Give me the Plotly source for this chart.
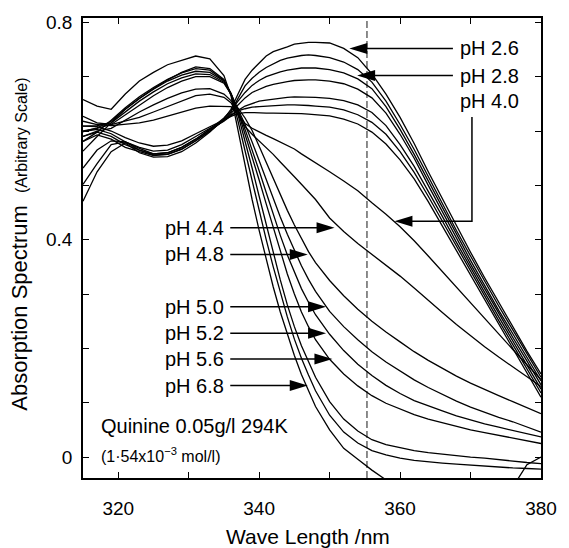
import plotly.graph_objects as go

# ---------------- data ----------------
WL = [315, 317, 319, 321, 323, 325, 327, 329, 331, 333, 335, 336, 337, 338, 339, 340,
      341, 342, 343, 344, 345, 346, 347, 348, 350, 352, 354, 356, 358, 360, 362, 364,
      366, 368, 370, 372, 374, 376, 378, 380]

PH_2_6 = [0.471, 0.525, 0.562, 0.578, 0.560, 0.552, 0.553, 0.562, 0.578, 0.598, 0.622, 0.640, 0.668, 0.695, 0.712, 0.725,
          0.738, 0.746, 0.750, 0.755, 0.760, 0.762, 0.763, 0.763, 0.762, 0.752, 0.735, 0.705, 0.668, 0.625, 0.577, 0.525,
          0.475, 0.425, 0.377, 0.330, 0.285, 0.240, 0.195, 0.153]
PH_2_8 = [0.502, 0.540, 0.575, 0.580, 0.565, 0.556, 0.557, 0.566, 0.582, 0.600, 0.620, 0.635, 0.660, 0.683, 0.697, 0.708,
          0.717, 0.724, 0.730, 0.734, 0.737, 0.739, 0.740, 0.739, 0.735, 0.727, 0.713, 0.690, 0.655, 0.612, 0.566, 0.516,
          0.466, 0.417, 0.370, 0.323, 0.278, 0.234, 0.190, 0.147]
PH_3_0 = [0.532, 0.565, 0.582, 0.580, 0.568, 0.558, 0.560, 0.570, 0.585, 0.603, 0.624, 0.638, 0.655, 0.671, 0.684, 0.693,
          0.700, 0.705, 0.709, 0.712, 0.714, 0.716, 0.716, 0.716, 0.713, 0.707, 0.696, 0.678, 0.645, 0.603, 0.557, 0.508,
          0.460, 0.410, 0.362, 0.316, 0.270, 0.227, 0.183, 0.140]
PH_3_2 = [0.581, 0.593, 0.585, 0.570, 0.562, 0.555, 0.557, 0.567, 0.582, 0.600, 0.620, 0.632, 0.648, 0.661, 0.671, 0.677,
          0.682, 0.686, 0.689, 0.691, 0.693, 0.694, 0.694, 0.694, 0.692, 0.687, 0.677, 0.661, 0.633, 0.594, 0.550, 0.500,
          0.452, 0.403, 0.355, 0.310, 0.264, 0.220, 0.177, 0.133]
PH_3_4 = [0.590, 0.598, 0.590, 0.575, 0.565, 0.558, 0.560, 0.570, 0.585, 0.603, 0.618, 0.628, 0.638, 0.646, 0.651, 0.655,
          0.657, 0.659, 0.661, 0.662, 0.663, 0.663, 0.663, 0.662, 0.660, 0.656, 0.648, 0.634, 0.610, 0.575, 0.535, 0.490,
          0.443, 0.395, 0.348, 0.303, 0.258, 0.214, 0.170, 0.125]
PH_3_6 = [0.599, 0.603, 0.595, 0.580, 0.570, 0.563, 0.565, 0.575, 0.590, 0.605, 0.620, 0.630, 0.637, 0.641, 0.644, 0.645,
          0.646, 0.647, 0.648, 0.648, 0.648, 0.648, 0.647, 0.646, 0.644, 0.639, 0.630, 0.616, 0.594, 0.562, 0.524, 0.480,
          0.434, 0.387, 0.341, 0.296, 0.251, 0.207, 0.163, 0.118]
PH_3_8 = [0.609, 0.608, 0.600, 0.588, 0.578, 0.572, 0.574, 0.582, 0.595, 0.608, 0.620, 0.627, 0.632, 0.634, 0.634, 0.633,
          0.633, 0.633, 0.633, 0.633, 0.632, 0.632, 0.631, 0.630, 0.628, 0.622, 0.613, 0.598, 0.576, 0.547, 0.512, 0.470,
          0.425, 0.380, 0.334, 0.289, 0.245, 0.200, 0.156, 0.110]
PH_4_0 = [0.618, 0.612, 0.610, 0.612, 0.615, 0.620, 0.627, 0.635, 0.642, 0.646, 0.645, 0.645, 0.630, 0.614, 0.605, 0.598,
          0.592, 0.586, 0.580, 0.574, 0.567, 0.558, 0.550, 0.542, 0.525, 0.508, 0.490, 0.468, 0.447, 0.424, 0.398, 0.370,
          0.341, 0.312, 0.283, 0.254, 0.226, 0.198, 0.170, 0.143]
PH_4_4 = [0.627, 0.615, 0.612, 0.618, 0.625, 0.635, 0.645, 0.656, 0.665, 0.668, 0.662, 0.652, 0.630, 0.608, 0.594, 0.582,
          0.570, 0.557, 0.543, 0.530, 0.516, 0.502, 0.488, 0.474, 0.440, 0.415, 0.393, 0.373, 0.353, 0.333, 0.311, 0.288,
          0.266, 0.244, 0.223, 0.203, 0.184, 0.166, 0.148, 0.130]
PH_4_8 = [0.590, 0.600, 0.605, 0.620, 0.635, 0.648, 0.660, 0.670, 0.677, 0.678, 0.668, 0.656, 0.642, 0.624, 0.601, 0.572,
          0.542, 0.512, 0.482, 0.454, 0.427, 0.401, 0.378, 0.358, 0.325, 0.297, 0.272, 0.250, 0.230, 0.212, 0.194, 0.178,
          0.163, 0.149, 0.136, 0.124, 0.113, 0.102, 0.091, 0.080]
PH_5_0 = [0.600, 0.605, 0.612, 0.630, 0.648, 0.665, 0.680, 0.692, 0.700, 0.700, 0.688, 0.668, 0.640, 0.612, 0.580, 0.545,
          0.510, 0.475, 0.442, 0.410, 0.380, 0.352, 0.327, 0.305, 0.268, 0.240, 0.216, 0.194, 0.175, 0.158, 0.142, 0.128,
          0.115, 0.103, 0.092, 0.082, 0.073, 0.065, 0.055, 0.046]
PH_5_2 = [0.609, 0.610, 0.615, 0.635, 0.655, 0.672, 0.687, 0.698, 0.705, 0.704, 0.690, 0.668, 0.638, 0.603, 0.566, 0.527,
          0.487, 0.447, 0.408, 0.372, 0.340, 0.310, 0.285, 0.262, 0.226, 0.196, 0.171, 0.150, 0.132, 0.117, 0.104, 0.094,
          0.085, 0.076, 0.068, 0.061, 0.055, 0.049, 0.043, 0.037]
PH_5_6 = [0.599, 0.606, 0.618, 0.640, 0.660, 0.677, 0.692, 0.703, 0.710, 0.708, 0.692, 0.670, 0.636, 0.595, 0.553, 0.510,
          0.466, 0.422, 0.378, 0.337, 0.300, 0.267, 0.240, 0.216, 0.180, 0.153, 0.131, 0.113, 0.099, 0.088, 0.078, 0.070,
          0.063, 0.056, 0.050, 0.045, 0.040, 0.035, 0.030, 0.025]
PH_6_0 = [0.581, 0.598, 0.620, 0.643, 0.663, 0.680, 0.695, 0.707, 0.715, 0.712, 0.693, 0.668, 0.630, 0.582, 0.532, 0.480,
          0.427, 0.376, 0.326, 0.280, 0.240, 0.205, 0.175, 0.147, 0.102, 0.070, 0.048, 0.032, 0.023, 0.017, 0.012, 0.008,
          0.005, 0.002, 0.000, -0.002, -0.005, -0.008, -0.010, -0.012]
PH_6_4 = [0.563, 0.590, 0.615, 0.640, 0.660, 0.678, 0.694, 0.708, 0.718, 0.715, 0.695, 0.668, 0.618, 0.563, 0.507, 0.452,
          0.400, 0.350, 0.302, 0.258, 0.217, 0.182, 0.151, 0.122, 0.077, 0.046, 0.026, 0.012, 0.004, -0.002, -0.006, -0.009,
          -0.011, -0.013, -0.015, -0.017, -0.018, -0.020, -0.021, -0.022]
PH_6_8 = [0.658, 0.646, 0.640, 0.668, 0.692, 0.708, 0.722, 0.730, 0.738, 0.733, 0.702, 0.665, 0.600, 0.535, 0.474, 0.417,
          0.363, 0.313, 0.267, 0.226, 0.187, 0.152, 0.121, 0.093, 0.050, 0.016, -0.004, -0.024, -0.042, -0.060, -0.070, -0.072,
          -0.073, -0.073, -0.072, -0.070, -0.066, -0.055, -0.014, 0.000]

SPECTRA = [PH_2_6, PH_2_8, PH_3_0, PH_3_2, PH_3_4, PH_3_6, PH_3_8, PH_4_0,
           PH_4_4, PH_4_8, PH_5_0, PH_5_2, PH_5_6, PH_6_0, PH_6_4, PH_6_8]

DASH_NM = 355.3

# labels pointing from the right (text, arrow tip wavelength, absorbance)
RIGHT_LABELS = ["pH 2.6", "pH 2.8"]
RIGHT_TIP_NM = [352.8, 353.9]
RIGHT_TIP_A = [0.752, 0.702]
# pH 4.0 label with an elbow arrow
ELBOW_LABEL = "pH 4.0"
ELBOW_TEXT_A = 0.656
ELBOW_TIP_NM = 359.2
ELBOW_TIP_A = 0.434
# labels pointing from the left
LEFT_LABELS = ["pH 4.4", "pH 4.8", "pH 5.0", "pH 5.2", "pH 5.6", "pH 6.8"]
LEFT_TIP_NM = [350.7, 346.9, 349.5, 349.5, 350.4, 346.9]
LEFT_TIP_A = [0.422, 0.373, 0.2765, 0.228, 0.1806, 0.1316]

FONT = "Liberation Sans, Arial, Helvetica, sans-serif"

fig = go.Figure()
for s in SPECTRA:
    fig.add_trace(go.Scatter(x=WL, y=s, mode="lines",
                             line=dict(color="black", width=1.3),
                             showlegend=False, hoverinfo="skip"))

shapes = []
annotations = []
# dashed marker line
shapes.append(dict(type="line", xref="x", yref="paper", x0=DASH_NM, x1=DASH_NM, y0=0, y1=1,
                   line=dict(color="#707070", width=1.6, dash="7px,3px"), layer="below"))

HEAD_L = "M0,0 L18,5.5 L18,-5.5 Z"    # pointing left
HEAD_R = "M0,0 L-18,5.5 L-18,-5.5 Z"  # pointing right

RIGHT_TEXT_NM = 368.2
RIGHT_LINE_NM = 367.5
LEFT_TEXT_NM = 335.3
LEFT_LINE_NM = 335.9

LABEL_FONT = dict(size=20, family=FONT, color="black")

for t, nx, ny in zip(RIGHT_LABELS, RIGHT_TIP_NM, RIGHT_TIP_A):
    annotations.append(dict(x=RIGHT_TEXT_NM, y=ny, xref="x", yref="y", text=t, showarrow=False,
                            xanchor="left", yanchor="middle", font=LABEL_FONT))
    shapes.append(dict(type="line", xref="x", yref="y", x0=RIGHT_LINE_NM, x1=nx + 1.5, y0=ny, y1=ny,
                       line=dict(color="black", width=1.5)))
    shapes.append(dict(type="path", xref="x", yref="y", xsizemode="pixel", ysizemode="pixel",
                       xanchor=nx, yanchor=ny, path=HEAD_L, fillcolor="black", line=dict(width=0)))

# elbow arrow for pH 4.0
annotations.append(dict(x=RIGHT_TEXT_NM, y=ELBOW_TEXT_A, xref="x", yref="y", text=ELBOW_LABEL, showarrow=False,
                        xanchor="left", yanchor="middle", font=LABEL_FONT))
ELBOW_X = 370.2
shapes.append(dict(type="path", xref="x", yref="y",
                   path=f"M{ELBOW_X},{ELBOW_TEXT_A - 0.03} L{ELBOW_X},{ELBOW_TIP_A} L{ELBOW_TIP_NM + 1.5},{ELBOW_TIP_A}",
                   line=dict(color="black", width=1.5)))
shapes.append(dict(type="path", xref="x", yref="y", xsizemode="pixel", ysizemode="pixel",
                   xanchor=ELBOW_TIP_NM, yanchor=ELBOW_TIP_A, path=HEAD_L, fillcolor="black", line=dict(width=0)))

for t, nx, ny in zip(LEFT_LABELS, LEFT_TIP_NM, LEFT_TIP_A):
    annotations.append(dict(x=LEFT_TEXT_NM, y=ny, xref="x", yref="y", text=t, showarrow=False,
                            xanchor="right", yanchor="middle", font=LABEL_FONT))
    shapes.append(dict(type="line", xref="x", yref="y", x0=LEFT_LINE_NM, x1=nx - 1.5, y0=ny, y1=ny,
                       line=dict(color="black", width=1.5)))
    shapes.append(dict(type="path", xref="x", yref="y", xsizemode="pixel", ysizemode="pixel",
                       xanchor=nx, yanchor=ny, path=HEAD_R, fillcolor="black", line=dict(width=0)))

annotations.append(dict(x=317.3, y=0.058, xref="x", yref="y", text="Quinine 0.05g/l 294K", showarrow=False,
                        xanchor="left", yanchor="middle", font=dict(size=20, family=FONT, color="black")))
annotations.append(dict(x=317.3, y=0.004, xref="x", yref="y", text="(1·54x10<sup>−3</sup> mol/l)", showarrow=False,
                        xanchor="left", yanchor="middle", font=dict(size=16, family=FONT, color="black")))

# axis titles
annotations.append(dict(x=0.492, y=-0.128, xref="paper", yref="paper", text="Wave Length /nm", showarrow=False,
                        xanchor="center", yanchor="middle", font=dict(size=21, family=FONT, color="black")))
annotations.append(dict(x=-0.138, y=0.509, xref="paper", yref="paper", textangle=-90,
                        text="Absorption Spectrum  <span style='font-size:16px'>(Arbitrary Scale)</span>",
                        showarrow=False, xanchor="center", yanchor="middle",
                        font=dict(size=22, family=FONT, color="black")))

fig.update_layout(
    width=569, height=548,
    margin=dict(l=83, r=24, t=16, b=70),
    paper_bgcolor="white", plot_bgcolor="white",
    font=dict(family=FONT, color="black", size=19),
    shapes=shapes, annotations=annotations,
    showlegend=False,
)
fig.update_xaxes(range=[315, 380], tickvals=[320, 340, 360, 380], ticktext=["320", "340", "360", "380"],
                 ticks="inside", ticklen=6, tickwidth=1.3, tickcolor="black",
                 minor=dict(tickvals=[330, 350, 370], ticks="inside", ticklen=6, tickwidth=1.3, tickcolor="black"),
                 showline=True, linecolor="black", linewidth=1.8, mirror="allticks",
                 showgrid=False, zeroline=False, ticklabelstandoff=12,
                 tickfont=dict(size=19, family=FONT, color="black"))
fig.update_yaxes(range=[-0.0385, 0.808], tickvals=[0, 0.4, 0.8], ticktext=["0", "0.4", "0.8"],
                 ticks="inside", ticklen=6, tickwidth=1.3, tickcolor="black",
                 minor=dict(tickvals=[0.1, 0.2, 0.3, 0.5, 0.6, 0.7], ticks="inside", ticklen=6, tickwidth=1.3,
                            tickcolor="black"),
                 showline=True, linecolor="black", linewidth=1.8, mirror="allticks",
                 showgrid=False, zeroline=False, ticklabelstandoff=5,
                 tickfont=dict(size=19, family=FONT, color="black"))

fig.write_html("out.html", config={"displayModeBar": False},
               post_script="document.body.style.margin='0';")
